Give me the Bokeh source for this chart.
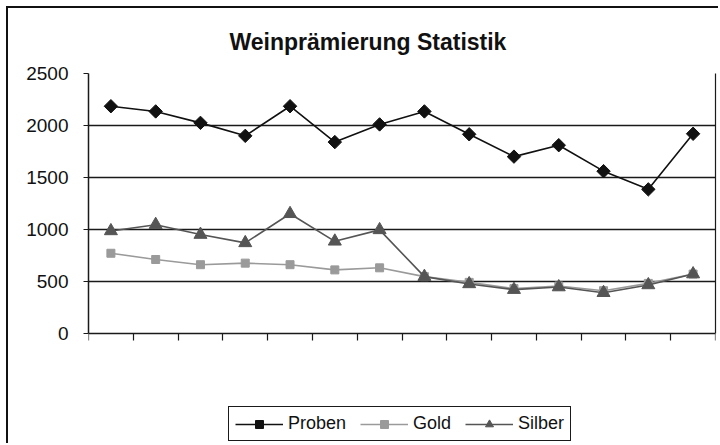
from bokeh.plotting import figure
from bokeh.models import Legend, LegendItem, FixedTicker, Range1d, LinearAxis
from bokeh.embed import file_html
from bokeh.resources import INLINE
import math

# ---- data ----
periods = list(range(14))
proben = [2185, 2135, 2025, 1900, 2185, 1840, 2010, 2135, 1915, 1700, 1810, 1560, 1385, 1920]
gold   = [770, 710, 660, 675, 660, 610, 630, 545, 490, 430, 455, 410, 480, 570]
silber = [985, 1045, 950, 870, 1150, 885, 995, 545, 475, 420, 445, 390, 465, 570]
y_ticks = [0, 500, 1000, 1500, 2000, 2500]
title_text = "Weinprämierung Statistik"
names = ["Proben", "Gold", "Silber"]

y_max = 2500
y_low = -1080   # empty room under the axis, holds the legend
xs = [i + 0.5 for i in periods]

p = figure(width=712, height=437, output_backend="svg", toolbar_location=None,
           x_range=Range1d(0, len(periods)), y_range=Range1d(y_low, y_max),
           min_border_left=80, min_border_right=5, min_border_top=65, min_border_bottom=0)
p.styles = {"border-top": "2px solid #111111", "border-left": "2px solid #111111",
            "margin-left": "6px", "margin-top": "6px"}

p.title.text = title_text
p.title.text_font = "Liberation Sans"
p.title.text_font_style = "bold"
p.title.text_font_size = "23px"
p.title.text_color = "#111111"
p.title.align = "left"
p.title.vertical_align = "top"
p.title.offset = 141
p.title.standoff = 33

p.outline_line_color = None
p.background_fill_color = "white"
p.border_fill_color = "white"

# grid
p.xgrid.grid_line_color = None
p.ygrid.grid_line_color = "#1a1a1a"
p.ygrid.grid_line_width = 1.6
p.ygrid.ticker = FixedTicker(ticks=y_ticks[1:])

# y axis
p.yaxis.ticker = FixedTicker(ticks=y_ticks)
p.yaxis.bounds = (0, y_max)
p.yaxis.major_label_text_font = "Liberation Sans"
p.yaxis.major_label_text_font_size = "19px"
p.yaxis.major_label_text_color = "#111111"
p.yaxis.axis_line_color = "#1a1a1a"
p.yaxis.axis_line_width = 1.5
p.yaxis.major_tick_line_color = "#1a1a1a"
p.yaxis.major_tick_out = 5
p.yaxis.major_tick_in = 0
p.yaxis.minor_tick_line_color = None
p.yaxis.major_label_standoff = 15

# right border of the plot area
r_ax = LinearAxis(bounds=(0, y_max), ticker=FixedTicker(ticks=[]),
                  axis_line_color="#1a1a1a", axis_line_width=1.2,
                  major_tick_line_color=None, minor_tick_line_color=None,
                  major_label_text_font_size="0px")
p.add_layout(r_ax, "right")

# x axis at y = 0: ticks at category boundaries, no labels
p.xaxis.fixed_location = 0
p.xaxis.ticker = FixedTicker(ticks=list(range(len(periods) + 1)))
p.xaxis.major_label_text_font_size = "0px"
p.xaxis.major_label_text_color = None
p.xaxis.axis_line_color = "#1a1a1a"
p.xaxis.axis_line_width = 1.6
p.xaxis.major_tick_line_color = "#1a1a1a"
p.xaxis.major_tick_line_width = 1.2
p.xaxis.major_tick_out = 7
p.xaxis.major_tick_in = 0
p.xaxis.minor_tick_line_color = None

c_pro, c_gold, c_sil = "#111111", "#9a9a9a", "#555555"

l_gold = p.line(xs, gold, line_color=c_gold, line_width=1.6)
m_gold = p.scatter(xs, gold, marker="square", size=8, fill_color=c_gold, line_color=c_gold)
l_sil = p.line(xs, silber, line_color=c_sil, line_width=1.6)
m_sil = p.scatter(xs, silber, marker="triangle", size=13, fill_color=c_sil, line_color=c_sil)
l_pro = p.line(xs, proben, line_color=c_pro, line_width=1.6)
m_pro = p.scatter(xs, proben, marker="square", angle=math.pi / 4, size=9.5,
                  fill_color=c_pro, line_color=c_pro)

legend = Legend(items=[
    LegendItem(label=names[0], renderers=[l_pro, m_pro]),
    LegendItem(label=names[1], renderers=[l_gold, m_gold]),
    LegendItem(label=names[2], renderers=[l_sil, m_sil]),
], orientation="horizontal", location=(140, 4))
legend.label_text_font = "Liberation Sans"
legend.label_text_font_size = "18px"
legend.label_text_color = "#111111"
legend.glyph_width = 48
legend.glyph_height = 20
legend.label_standoff = 5
legend.spacing = 14
legend.padding = 6
legend.margin = 0
legend.border_line_color = "#1a1a1a"
legend.border_line_alpha = 1
legend.border_line_width = 1.5
legend.background_fill_alpha = 1
p.add_layout(legend, "center")

open("out.html", "w").write(file_html(p, INLINE))
